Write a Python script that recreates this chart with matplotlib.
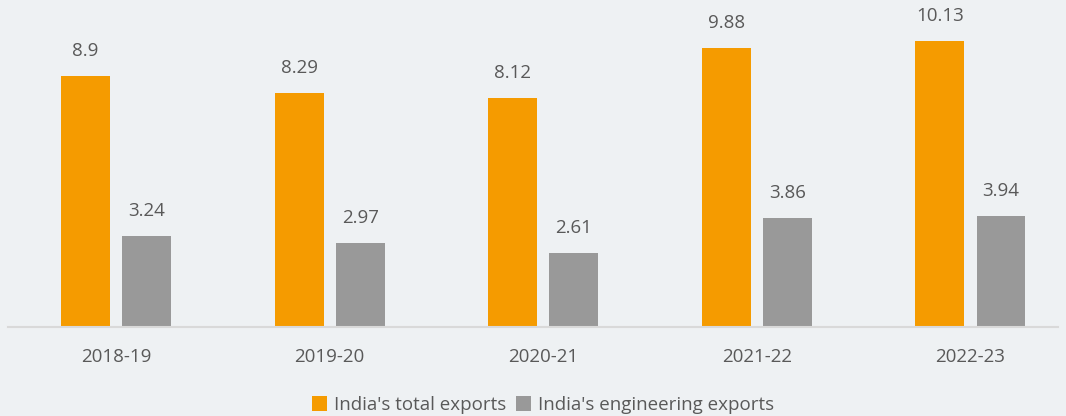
import matplotlib
matplotlib.use('Agg')
from matplotlib import pyplot as plt
import numpy as np

years=['2018-19','2019-20','2020-21','2021-22','2022-23']
total=[8.9,8.29,8.12,9.88,10.13]
engineering=[3.24,2.97,2.61,3.86,3.94]

bg='#EEF1F3'
orange='#F59B00'
grey='#999999'
txt='#595959'

plt.rcParams['font.family']=['Open Sans','DejaVu Sans']

W,H=1066,416
fig=plt.figure(figsize=(W/100,H/100),dpi=100,facecolor=bg)
# axes placed in pixel terms: left 8, right 1058, top 0, baseline at 327
ax=fig.add_axes([8/W,(H-327)/H,1050/W,327/H],facecolor=bg)

x=np.arange(len(years))
bw=0.229
off=0.143
b1=ax.bar(x-off,total,bw,color=orange,label="India's total exports")
b2=ax.bar(x+off,engineering,bw,color=grey,label="India's engineering exports")

for bars,vals in ((b1,total),(b2,engineering)):
    for r,v in zip(bars,vals):
        ax.annotate('{:g}'.format(v),(r.get_x()+r.get_width()/2,v),
                    xytext=(0,18),textcoords='offset points',
                    ha='center',va='center',fontsize=13.5,color=txt)

ax.set_xlim(-0.506,4.41)
ax.set_ylim(0,327/28.2)
for s in ['top','right','left']:
    ax.spines[s].set_visible(False)
ax.spines['bottom'].set_color('#D9D9D9')
ax.spines['bottom'].set_linewidth(1.5)
ax.set_yticks([])
ax.set_xticks(x,years)
ax.tick_params(axis='x',length=0,pad=15,labelsize=13.5,labelcolor=txt)

fig.legend(handles=[b1,b2],loc='center',bbox_to_anchor=(543/W,1-405/H),ncol=2,
           frameon=False,fontsize=13.5,labelcolor=txt,handlelength=0.8,handleheight=0.8,
           handletextpad=0.4,columnspacing=0.5)

fig.savefig('out.png',dpi=100,facecolor=bg)
